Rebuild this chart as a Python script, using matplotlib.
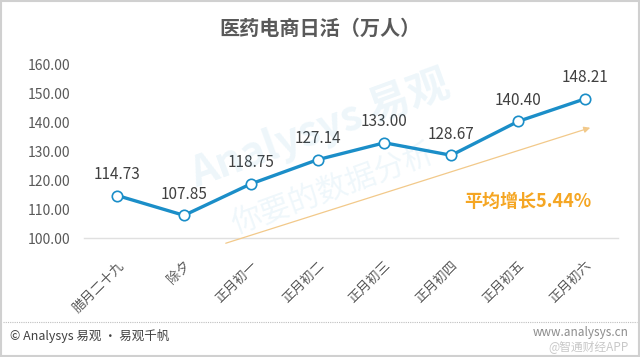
import matplotlib
matplotlib.use('Agg')
import matplotlib.pyplot as plt
from matplotlib.patches import Rectangle
from matplotlib.lines import Line2D

plt.rcParams['font.family'] = ['Noto Sans CJK SC', 'DejaVu Sans']

# daily active users of pharma e-commerce (10k people)
days = ['腊月二十九', '除夕', '正月初一', '正月初二', '正月初三', '正月初四', '正月初五', '正月初六']
dau = [114.73, 107.85, 118.75, 127.14, 133.00, 128.67, 140.40, 148.21]
yticks = [100, 110, 120, 130, 140, 150, 160]

fig = plt.figure(figsize=(6.4, 3.57), dpi=100)
ax = fig.add_axes([0.131, 0.3333, 0.835, 0.485])

x = list(range(len(days)))
ax.plot(x, dau, color='#1b8ec8', linewidth=2.4, marker='o', markersize=7.5,
        markerfacecolor='white', markeredgecolor='#1b8ec8', markeredgewidth=1.2,
        zorder=3, clip_on=False)
for xi, v in zip(x, dau):
    ax.annotate(f'{v:.2f}', (xi, v), xytext=(0, 9), textcoords='offset points',
                ha='center', va='bottom', fontsize=11, color='#404040')

ax.set_xlim(-0.5, 7.5)
ax.set_ylim(100, 160)
ax.set_yticks(yticks)
ax.set_yticklabels([f'{t:.2f}' for t in yticks], fontsize=10, color='#595959')
ax.set_xticks(x)
ax.set_xticklabels(days, rotation=45, ha='right', va='top', rotation_mode='anchor',
                   fontsize=9.5, color='#595959')
ax.tick_params(axis='both', length=0)
ax.tick_params(axis='x', pad=15)
ax.tick_params(axis='y', pad=10)
for s in ['top', 'right', 'left']:
    ax.spines[s].set_visible(False)
ax.spines['bottom'].set_color('#e0e0e0')
ax.spines['bottom'].set_linewidth(1)

# trend arrow
ax.annotate('', xy=(7.12, 138.5), xytext=(1.585, 97.9),
            arrowprops=dict(arrowstyle='-|>', color='#f2c98a', lw=0.9,
                            mutation_scale=9), annotation_clip=False)
ax.text(6.15, 112.5, '平均增长5.44%', ha='center', va='center', fontsize=13,
        fontweight='bold', color='#f5a623')

# faint watermark
fig.text(0.50, 0.64, 'Analysys 易观', fontsize=30, fontweight='bold', color='#1b8ec8',
         alpha=0.08, rotation=20, ha='center', va='center')
fig.text(0.52, 0.47, '你要的数据分析', fontsize=22, color='#1b8ec8',
         alpha=0.07, rotation=20, ha='center', va='center')

fig.text(0.5, 0.92, '医药电商日活（万人）', ha='center', va='center', fontsize=14.5,
         fontweight='bold', color='#595959')

# footer
fig.add_artist(Line2D([0.005, 0.995], [0.098, 0.098], color='#bfbfbf', lw=0.8,
                      linestyle=(0, (1, 1))))
fig.text(0.015, 0.058, '© Analysys 易观 · 易观千帆', fontsize=9, color='#404040',
         va='center', ha='left')
fig.text(0.982, 0.070, 'www.analysys.cn', fontsize=8.5, color='#8c8c8c',
         va='center', ha='right')
fig.text(0.982, 0.028, '@智通财经APP', fontsize=8.5, color='#c8c8c8',
         va='center', ha='right')

fig.add_artist(Rectangle((0.002, 0.003), 0.996, 0.994, transform=fig.transFigure,
                         fill=False, edgecolor='#d0d0d0', lw=1.5))

fig.savefig('out.png', dpi=100, facecolor='white')
